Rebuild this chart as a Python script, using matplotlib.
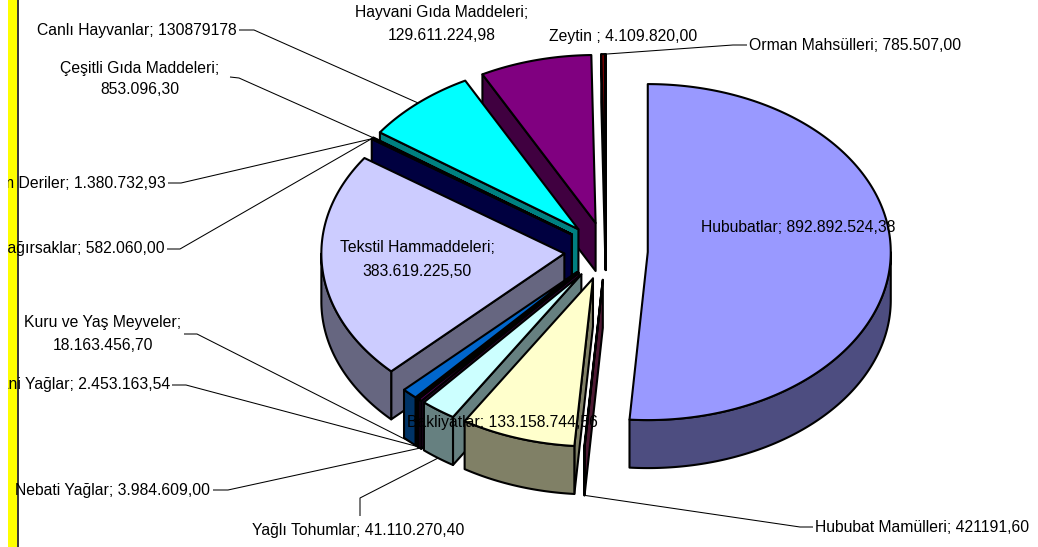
import numpy as np
import matplotlib
matplotlib.use("Agg")
import matplotlib.pyplot as plt
from matplotlib.patches import Polygon, Rectangle
from matplotlib import colors as mcolors

# ---------------- data ----------------
categories = ["Hububatlar", "Hububat Mamülleri", "Bakliyatlar", "Yağlı Tohumlar",
              "Nebati Yağlar", "Hayvani Yağlar", "Kuru ve Yaş Meyveler",
              "Tekstil Hammaddeleri", "Ham Deriler", "Bağırsaklar",
              "Çeşitli Gıda Maddeleri", "Canlı Hayvanlar", "Hayvani Gıda Maddeleri",
              "Zeytin ", "Orman Mahsülleri"]
values = [892892524.38, 421191.60, 133158744.56, 41110270.40, 3984609.00,
          2453163.54, 18163456.70, 383619225.50, 1380732.93, 582060.00,
          853096.30, 130879178.00, 129611224.98, 4109820.00, 785507.00]
value_texts = ["892.892.524,38", "421191,60", "133.158.744,56", "41.110.270,40",
               "3.984.609,00", "2.453.163,54", "18.163.456,70", "383.619.225,50",
               "1.380.732,93", "582.060,00", "853.096,30", "130879178",
               "129.611.224,98", "4.109.820,00", "785.507,00"]
slice_colors = ["#9999FF", "#993366", "#FFFFCC", "#CCFFFF", "#660066", "#FF8080",
                "#0066CC", "#CCCCFF", "#000080", "#FF00FF", "#FFFF00", "#00FFFF",
                "#800080", "#800000", "#008080"]

# ---------------- layout ----------------
W, H = 1038, 547
CX, CY = 606, 251          # pie centre (px)
RX, RY = 243, 168          # ellipse radii of the top face
DEPTH = 48                 # thickness
EXPL = 0.172               # explosion (fraction of radius)
EDGE_LW = 1.5
FS = 11.3

plt.rcParams['font.family'] = ['Liberation Sans', 'DejaVu Sans']

fig = plt.figure(figsize=(W / 100, H / 100), dpi=100)
L = 8
ax = fig.add_axes([L / W, 0, 1 - L / W, 1])
ax.set_xlim(L, W)
ax.set_ylim(H, 0)
ax.axis('off')

# yellow band on the left
ax.add_patch(Rectangle((L, 0), 9, H, facecolor='#FFFF00', edgecolor='none', zorder=0))
ax.plot([17.5, 17.5], [0, H], color='black', lw=1.1, zorder=1)

vals = np.array(values, dtype=float)
frac = vals / vals.sum()
ends = np.cumsum(frac) * 360.0
starts = ends - frac * 360.0
mids = (starts + ends) / 2.0


def proj(theta, r, off, z=0.0):
    t = np.radians(theta)
    u = off[0] + r * np.sin(t)
    v = off[1] + r * np.cos(t)
    return np.column_stack([CX + RX * u, CY - RY * v + z])


def shade(c, f=0.5):
    rgb = np.array(mcolors.to_rgb(c)) * f
    return tuple(rgb)


def arc(ts, te, off, z=0.0):
    n = max(2, int(abs(te - ts) * 1.5) + 2)
    th = np.linspace(ts, te, n)
    return proj(th, 1.0, off, z)


order = np.argsort(-np.cos(np.radians(mids)))   # back first
zo = 2
for i in order:
    ts, te, tm = starts[i], ends[i], mids[i]
    off = (EXPL * np.sin(np.radians(tm)), EXPL * np.cos(np.radians(tm)))
    col = slice_colors[i]
    dark = shade(col)
    vtx = proj(np.array([0.0]), 0.0, off)
    vtx_b = proj(np.array([0.0]), 0.0, off, DEPTH)
    faces = []
    # start radial face
    if np.sin(np.radians(ts)) < -1e-9:
        rt = proj(np.array([ts]), 1.0, off)
        rb = proj(np.array([ts]), 1.0, off, DEPTH)
        faces.append(np.vstack([vtx, rt, rb, vtx_b]))
    # end radial face
    if np.sin(np.radians(te)) > 1e-9:
        rt = proj(np.array([te]), 1.0, off)
        rb = proj(np.array([te]), 1.0, off, DEPTH)
        faces.append(np.vstack([vtx, rt, rb, vtx_b]))
    # outer curved wall
    a, b = max(ts, 90.0), min(te, 270.0)
    if a < b:
        top = arc(a, b, off)
        bot = arc(b, a, off, DEPTH)
        faces.append(np.vstack([top, bot]))
    for f in faces:
        ax.add_patch(Polygon(f, closed=True, facecolor=dark, edgecolor='black',
                             lw=EDGE_LW, joinstyle='round', zorder=zo))
        zo += 1
    topface = np.vstack([vtx, arc(ts, te, off)])
    ax.add_patch(Polygon(topface, closed=True, facecolor=col, edgecolor='black',
                         lw=EDGE_LW, joinstyle='round', zorder=zo))
    zo += 1


def anchor(i):
    tm = mids[i]
    off = (EXPL * np.sin(np.radians(tm)), EXPL * np.cos(np.radians(tm)))
    z = DEPTH if np.cos(np.radians(tm)) < 0 else 0.0
    return proj(np.array([tm]), 1.0, off, z)[0]


# label specs: (lines, x, y-list, ha, stub points or None)
label_specs = {
    0: (1, 798, [227], 'center', None),
    1: (1, 815, [527], 'left', [(813, 527), (800, 527)]),
    2: (1, 502, [423], 'center', None),
    3: (1, 252, [530], 'left', [(360, 516), (360, 498)]),
    4: (1, 15, [490], 'left', [(213, 490), (228, 490)]),
    5: (1, 170, [385], 'right', [(172, 385), (186, 385)]),
    6: (2, 103, [322, 346], 'center', [(184, 334), (197, 334)]),
    7: (2, 417, [248, 272], 'center', None),
    8: (1, 166, [183], 'right', [(168, 183), (181, 183)]),
    9: (1, 165, [249], 'right', [(167, 249), (180, 249)]),
    10: (2, 140, [68, 90], 'center', [(230, 77), (239, 78)]),
    11: (1, 237, [30], 'right', [(239, 30), (254, 30)]),
    12: (2, 442, [12, 35], 'center', None),
    13: (1, 623, [37], 'center', None),
    14: (1, 749, [45], 'left', [(747, 45), (733, 45)]),
}

for i, (nl, x, ys, ha, stub) in label_specs.items():
    if nl == 1:
        lines = [f"{categories[i]}; {value_texts[i]}"]
    else:
        lines = [f"{categories[i]};", value_texts[i]]
    for s, y in zip(lines, ys):
        ax.text(x, y, s, ha=ha, va='center', fontsize=FS, color='black',
                zorder=200, clip_on=True)
    if stub is not None:
        ax_, ay_ = anchor(i)
        xs = [p[0] for p in stub] + [ax_]
        yy = [p[1] for p in stub] + [ay_]
        ax.plot(xs, yy, color='black', lw=0.75, zorder=150, solid_capstyle='butt')

fig.savefig("out.png", dpi=100, facecolor='white')
